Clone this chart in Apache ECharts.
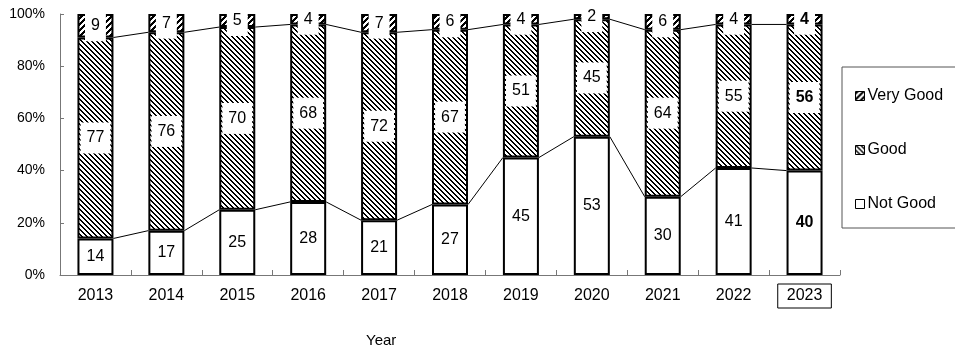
<!DOCTYPE html>
<html>
<head>
<meta charset="utf-8">
<script src="https://cdn.jsdelivr.net/npm/echarts@6/dist/echarts.min.js"></script>
<style>
html,body{margin:0;padding:0;background:#fff;}
#chart{width:955px;height:354px;}
</style>
</head>
<body>
<div id="chart"></div>
<script>
const years = ['2013','2014','2015','2016','2017','2018','2019','2020','2021','2022','2023'];
const notGood = [14,17,25,28,21,27,45,53,30,41,40];
const good = [77,76,70,68,72,67,51,45,64,55,56];
const veryGood = [9,7,5,4,7,6,4,2,6,4,4];
const yTicks = [0,20,40,60,80,100];
const highlightYear = '2023';
const xTitle = 'Year';

const FONT = '"Liberation Sans", Arial, sans-serif';
const BAR_W = 36;

function makePattern(size, fn) {
  const c = document.createElement('canvas');
  c.width = size; c.height = size;
  const ctx = c.getContext('2d');
  ctx.fillStyle = '#fff';
  ctx.fillRect(0,0,size,size);
  ctx.fillStyle = '#000';
  for (let y = 0; y < size; y++) {
    for (let x = 0; x < size; x++) {
      if (fn(x,y)) ctx.fillRect(x,y,1,1);
    }
  }
  return c;
}
// Good: "\" thin hatch
const goodPat = makePattern(5, (x,y) => ((x - y + 10) % 5) < 2);
// Very Good: "/" bold hatch
const vgPat = makePattern(6, (x,y) => ((x + y) % 6) < 3);

const hiIdx = years.indexOf(highlightYear);

function buildData(arr) {
  return arr.map((v,i) => i === hiIdx ? {value: v, label: {fontWeight: 'bold'}} : v);
}

const lowerConn = [];
const upperConn = [];
for (let i = 0; i < years.length - 1; i++) {
  lowerConn.push([i, notGood[i], i+1, notGood[i+1]]);
  upperConn.push([i, notGood[i] + good[i], i+1, notGood[i+1] + good[i+1]]);
}

const labelBase = {
  show: true,
  position: 'inside',
  color: '#000',
  fontSize: 16,
  fontFamily: FONT,
  backgroundColor: '#fff',
  padding: [8,6,7,6]
};

const itemBase = {borderColor: '#000', borderWidth: 2};

function connRender(params, api) {
  const p1 = api.coord([api.value(0), api.value(1)]);
  const p2 = api.coord([api.value(2), api.value(3)]);
  return {
    type: 'line',
    shape: {x1: p1[0] + BAR_W/2, y1: p1[1], x2: p2[0] - BAR_W/2, y2: p2[1]},
    style: {stroke: '#000', lineWidth: 1}
  };
}

const chart = echarts.init(document.getElementById('chart'), null, {renderer: 'canvas'});
chart.setOption({
  animation: false,
  backgroundColor: '#fff',
  textStyle: {fontFamily: FONT},
  grid: {left: 60, right: 115, top: 14, bottom: 79},
  legend: {
    orient: 'vertical',
    left: 842, top: 67,
    padding: [21, 40, 16, 13],
    itemGap: 38,
    itemWidth: 9, itemHeight: 9,
    borderColor: '#555', borderWidth: 1,
    icon: 'rect',
    itemStyle: {borderColor: '#000', borderWidth: 1},
    textStyle: {fontSize: 16, color: '#000', fontFamily: FONT, padding: [0,0,0,-2]},
    data: ['Very Good', 'Good', 'Not Good']
  },
  xAxis: {
    type: 'category',
    data: years,
    axisLine: {lineStyle: {color: '#777', width: 1}},
    axisTick: {show: true, inside: true, length: 5, interval: 0, lineStyle: {color: '#777'}},
    axisLabel: {
      interval: 0,
      margin: 9,
      color: '#000',
      fontSize: 16,
      fontFamily: FONT,
      formatter: v => v === highlightYear ? '{hl|' + v + '}' : '{n|' + v + '}',
      rich: {
        n: {fontSize: 16, fontFamily: FONT, color: '#000', padding: [4,9,4,9]},
        hl: {fontSize: 16, fontFamily: FONT, color: '#000', padding: [4,9,4,9], borderColor: '#000', borderWidth: 1}
      }
    },
    splitLine: {show: false}
  },
  yAxis: {
    type: 'value',
    min: yTicks[0], max: yTicks[yTicks.length-1], interval: yTicks[1] - yTicks[0],
    axisLine: {show: true, lineStyle: {color: '#777', width: 1}},
    axisTick: {show: true, inside: true, length: 4, lineStyle: {color: '#777'}},
    axisLabel: {formatter: '{value}%', color: '#000', fontSize: 14, fontFamily: FONT, margin: 15},
    splitLine: {show: false}
  },
  graphic: [{
    type: 'text', left: 366, top: 333,
    style: {text: xTitle, fontSize: 15, fontFamily: FONT, fill: '#000'}
  }],
  series: [
    {name: 'Not Good', type: 'bar', stack: 's', barWidth: BAR_W, data: buildData(notGood),
     itemStyle: Object.assign({color: '#fff'}, itemBase), label: labelBase, z: 2},
    {name: 'Good', type: 'bar', stack: 's', barWidth: BAR_W, data: buildData(good),
     itemStyle: Object.assign({color: {image: goodPat, repeat: 'repeat'}}, itemBase), label: labelBase, z: 2},
    {name: 'Very Good', type: 'bar', stack: 's', barWidth: BAR_W, data: buildData(veryGood),
     itemStyle: Object.assign({color: {image: vgPat, repeat: 'repeat'}}, itemBase), label: labelBase, z: 2},
    {name: 'connLow', type: 'custom', renderItem: connRender, data: lowerConn, z: 3, silent: true},
    {name: 'connUp', type: 'custom', renderItem: connRender, data: upperConn, z: 3, silent: true}
  ]
});
</script>
</body>
</html>
